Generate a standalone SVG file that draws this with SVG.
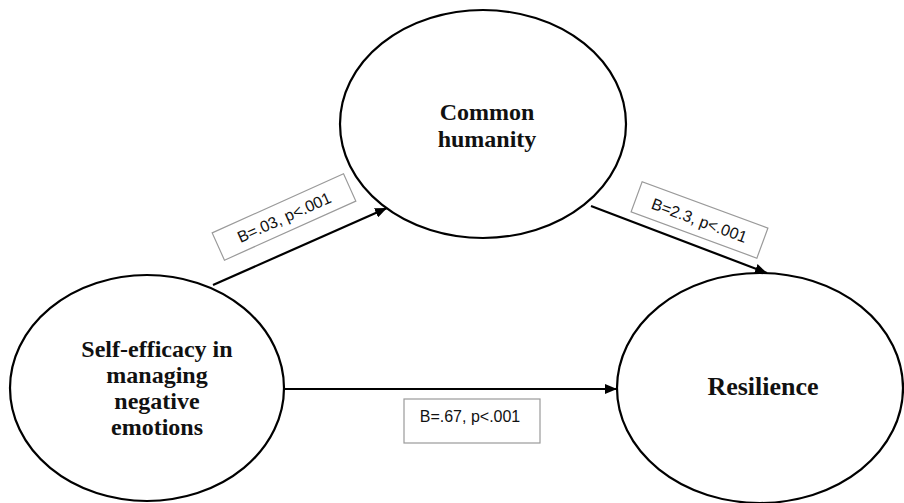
<svg xmlns="http://www.w3.org/2000/svg" width="904" height="503" viewBox="0 0 904 503">
<style>
.node{fill:#fff;stroke:#000;stroke-width:2.2}
.lbl{font-family:"Liberation Serif","Times New Roman",serif;font-weight:bold;font-size:24px;fill:#111;text-anchor:middle}
.edge{stroke:#000;stroke-width:2.2;fill:none}
.box{fill:#fff;stroke:#9a9a9a;stroke-width:1.2}
.el{font-family:"Liberation Sans",Arial,sans-serif;font-size:16px;fill:#111;text-anchor:middle}
</style>
<defs>
<marker id="arr" viewBox="0 0 12 10" refX="12" refY="5" markerWidth="12" markerHeight="10" markerUnits="userSpaceOnUse" orient="auto">
<path d="M0,0 L12,5 L0,10 Z" fill="#000"/>
</marker>
</defs>
<rect width="904" height="503" fill="#fff"/>
<g id="node-self-efficacy">
<ellipse class="node" cx="147" cy="388" rx="137" ry="113"/>
<text class="lbl" x="157" y="357">Self-efficacy in</text>
<text class="lbl" x="157" y="383">managing</text>
<text class="lbl" x="157" y="409">negative</text>
<text class="lbl" x="157" y="435">emotions</text>
</g>
<g id="node-common-humanity">
<ellipse class="node" cx="483" cy="124" rx="143" ry="114"/>
<text class="lbl" x="487" y="120">Common</text>
<text class="lbl" x="487" y="147">humanity</text>
</g>
<g id="node-resilience">
<ellipse class="node" cx="760" cy="388" rx="143" ry="115"/>
<text class="lbl" x="763" y="395" style="font-size:26px">Resilience</text>
</g>
<g id="connectors">
<line class="edge" x1="213" y1="285" x2="387" y2="208" marker-end="url(#arr)"/>
<line class="edge" x1="591" y1="206" x2="767" y2="273" marker-end="url(#arr)"/>
<line class="edge" x1="284" y1="389" x2="617" y2="389" marker-end="url(#arr)"/>
<g transform="translate(284,217) rotate(-24.2)">
<rect class="box" x="-72" y="-15" width="144" height="30"/>
<text class="el" x="0" y="6">B=.03, p&lt;.001</text>
</g>
<g transform="translate(699.5,220) rotate(20.2)">
<rect class="box" x="-67" y="-16" width="134" height="32"/>
<text class="el" x="0" y="6">B=2.3, p&lt;.001</text>
</g>
<rect class="box" x="404" y="399" width="136" height="44"/>
<text class="el" x="470" y="422">B=.67, p&lt;.001</text>
</g>
</svg>
